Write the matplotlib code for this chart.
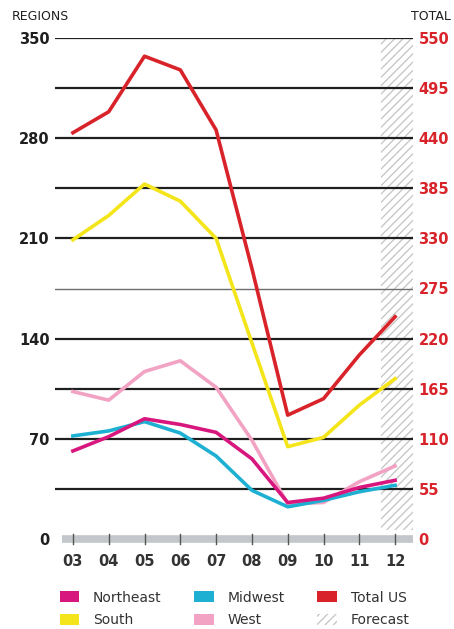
import matplotlib
matplotlib.use("Agg")
import matplotlib.pyplot as plt
from matplotlib.patches import Patch, Rectangle

# housing starts (thousands), regions on left axis, total on right axis
years = ["03", "04", "05", "06", "07", "08", "09", "10", "11", "12"]
northeast = [61.5, 71.5, 84, 80, 74.5, 56, 25.5, 28.5, 36, 41]
midwest = [72, 75.5, 82, 74, 58, 34, 22.5, 27, 33, 37.5]
south = [209, 226, 248, 236, 210, 137, 64.5, 71, 93.5, 112]
west = [103, 97, 117, 124.5, 106, 69, 24.5, 25.5, 40, 51]
total_us = [446, 469, 530, 515, 449, 297, 136, 154, 202, 244]
forecast_year = "12"

left_ticks = [0, 70, 140, 210, 280, 350]
right_ticks = [0, 55, 110, 165, 220, 275, 330, 385, 440, 495, 550]

C_NE = "#d8177e"
C_MW = "#1eb0d2"
C_S = "#f4e51a"
C_W = "#f2a3c3"
C_TOT = "#d9232a"
INK = "#1f1f1f"
HATCH = "#c4c4c4"

plt.rcParams["font.family"] = ["DejaVu Sans"]
plt.rcParams["hatch.linewidth"] = 0.9

fig = plt.figure(figsize=(4.54, 6.29), dpi=100)
ax = fig.add_axes([55 / 454, 1 - 539 / 629, 358 / 454, (539 - 38) / 629])
ax2 = ax.twinx()

x = list(range(len(years)))
ax.set_xlim(-0.5, len(years) - 0.5)
ax.set_ylim(0, 350)
ax2.set_ylim(0, 550)

# horizontal rules
for v in range(35, 351, 35):
    if v == 175:
        ax.axhline(v, color="#6e6e6e", lw=1.0, zorder=2)
    else:
        ax.axhline(v, color=INK, lw=1.6, zorder=2)

# forecast band
fi = years.index(forecast_year)
ax.add_patch(Rectangle((fi - 0.4, 6), 0.9, 344, facecolor="white",
                       edgecolor=HATCH, hatch="////", lw=0, zorder=1))

# bottom axis bar
ax.plot([-0.3, len(years) - 0.5], [0, 0], color="#c3c7cb", lw=5.5,
        solid_capstyle="butt", clip_on=False, zorder=3)
for xi in x:
    ax.plot([xi, xi], [-3.5, 3.5], color="#555", lw=1.0, clip_on=False, zorder=4)

lw = 2.6
ax.plot(x, west, color=C_W, lw=lw, zorder=5)
ax.plot(x, midwest, color=C_MW, lw=lw, zorder=6)
ax.plot(x, northeast, color=C_NE, lw=lw, zorder=7)
ax.plot(x, south, color=C_S, lw=lw, zorder=8)
ax2.plot(x, total_us, color=C_TOT, lw=lw, zorder=9)

for a in (ax, ax2):
    for s in a.spines.values():
        s.set_visible(False)
    a.tick_params(length=0)

ax.set_xticks(x)
ax.set_xticklabels(years, fontsize=10.5, fontweight="bold", color="#333")
ax.tick_params(axis="x", pad=11)
ax.set_yticks(left_ticks)
ax.set_yticklabels([str(v) for v in left_ticks], fontsize=10.5,
                   fontweight="bold", color=INK)
ax.tick_params(axis="y", pad=4)
ax2.set_yticks(right_ticks)
ax2.set_yticklabels([str(v) for v in right_ticks], fontsize=10.5,
                    fontweight="bold", color=C_TOT)
ax2.tick_params(axis="y", pad=4)
ax2.set_zorder(ax.get_zorder() + 1)
ax2.patch.set_visible(False)

fig.text(12 / 454, 1 - 17 / 629, "REGIONS", fontsize=9, color=INK, va="center")
fig.text(411 / 454, 1 - 17 / 629, "TOTAL", fontsize=9, color=INK, va="center")

handles = [
    Patch(facecolor=C_NE, label="Northeast"),
    Patch(facecolor=C_S, label="South"),
    Patch(facecolor=C_MW, label="Midwest"),
    Patch(facecolor=C_W, label="West"),
    Patch(facecolor=C_TOT, label="Total US"),
    Patch(facecolor="white", edgecolor=HATCH, hatch="////", lw=0, label="Forecast"),
]
fig.legend(handles=handles, ncol=3, loc="upper left",
           bbox_to_anchor=(47 / 454, 1 - 578 / 629), frameon=False,
           fontsize=10, handlelength=1.4, handleheight=0.8, handletextpad=1.0,
           columnspacing=2.35, labelspacing=0.62, labelcolor="#333")

fig.savefig("out.png", dpi=100)
